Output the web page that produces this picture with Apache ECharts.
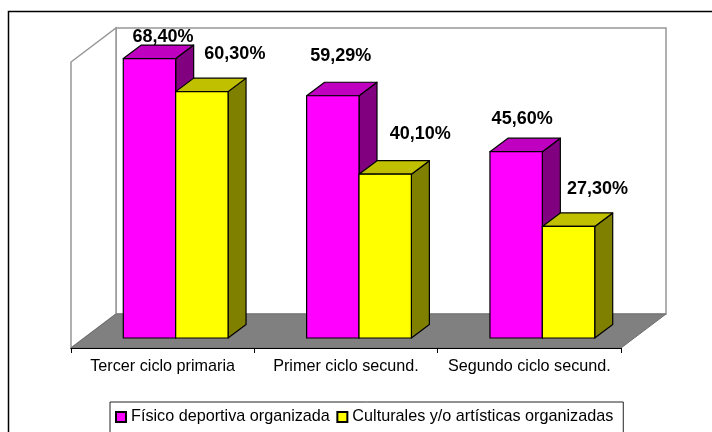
<!DOCTYPE html>
<html>
<head>
<meta charset="utf-8">
<style>
  html, body { margin: 0; padding: 0; background: #fff; }
  #chart { width: 712px; height: 432px; }
</style>
<script src="https://cdn.jsdelivr.net/npm/echarts@6/dist/echarts.min.js"></script>
</head>
<body>
<div id="chart"></div>
<script>
const categories = ["Tercer ciclo primaria", "Primer ciclo secund.", "Segundo ciclo secund."];
const fisico = [68.4, 59.29, 45.6];
const culturales = [60.3, 40.1, 27.3];
const seriesNames = ["Físico deportiva organizada", "Culturales y/o artísticas organizadas"];

// the value labels were dragged by hand in the original, so each has its own nudge
const fisicoNudge = [[13.5, -12.5], [8, -30.5], [6, -24]];
const culturalesNudge = [[33, -29], [35, -31], [29, -28]];

// oblique projection, in pixels: floor depth, and where the bars start and end on it
const FLOOR = [45, -34];
const BAR_FRONT = [13, -10];
const BAR_BACK = [31, -23.5];
const BAR_SHARE = 1 / 3.5;

const shift = (p, d) => [p[0] + d[0], p[1] + d[1]];

const renderBox = (colors, nudges, slot) => (params, api) => {
  const cat = api.value(0);
  const val = api.value(1);
  const band = api.size([1, 0])[0];
  const w = band * BAR_SHARE;
  const base = api.coord([cat, 0]);
  const top = api.coord([cat, val]);
  const x0 = base[0] + (slot - 1) * w;
  const x1 = x0 + w;

  const fBL = shift([x0, base[1]], BAR_FRONT);
  const fBR = shift([x1, base[1]], BAR_FRONT);
  const fTL = shift([x0, top[1]], BAR_FRONT);
  const fTR = shift([x1, top[1]], BAR_FRONT);
  const bTL = shift([x0, top[1]], BAR_BACK);
  const bTR = shift([x1, top[1]], BAR_BACK);
  const bBR = shift([x1, base[1]], BAR_BACK);

  const edge = { stroke: "#000", lineWidth: 1.2, lineJoin: "round" };
  const nudge = nudges[params.dataIndex];
  return {
    type: "group",
    children: [
      { type: "polygon", shape: { points: [fTR, bTR, bBR, fBR] }, style: { fill: colors.side, ...edge } },
      { type: "polygon", shape: { points: [fTL, bTL, bTR, fTR] }, style: { fill: colors.top, ...edge } },
      { type: "polygon", shape: { points: [fBL, fTL, fTR, fBR] }, style: { fill: colors.front, ...edge } },
      {
        type: "text",
        z2: 10,
        style: {
          text: val.toFixed(2).replace(".", ",") + "%",
          x: (fTL[0] + fTR[0]) / 2 + nudge[0],
          y: fTL[1] + nudge[1],
          align: "center",
          verticalAlign: "bottom",
          fill: "#000",
          font: "bold 18px 'Liberation Sans', Arial, sans-serif"
        }
      }
    ]
  };
};

// floor and walls, placed from the axes' own extent
const renderRoom = (params, api) => {
  const half = api.size([1, 0])[0] / 2;
  const first = api.coord([0, 0]);
  const last = api.coord([categories.length - 1, 0]);
  const ceil = api.coord([0, 70])[1];
  const fl = [first[0] - half, first[1]];
  const fr = [last[0] + half, last[1]];
  const lt = [fl[0], ceil];
  const rt = [fr[0], ceil];
  const wall = { stroke: "#969696", lineWidth: 1.5, fill: "#fff" };
  return {
    type: "group",
    children: [
      { type: "polygon", shape: { points: [shift(lt, FLOOR), shift(rt, FLOOR), shift(fr, FLOOR), shift(fl, FLOOR)] }, style: wall },
      { type: "polygon", shape: { points: [lt, shift(lt, FLOOR), shift(fl, FLOOR), fl] }, style: wall },
      { type: "polygon", shape: { points: [fl, shift(fl, FLOOR), shift(fr, FLOOR), fr] }, style: { fill: "#808080", stroke: "#6e6e6e", lineWidth: 1 } }
    ]
  };
};

const chart = echarts.init(document.getElementById("chart"), null, { renderer: "canvas" });
chart.setOption({
  animation: false,
  backgroundColor: "#fff",
  graphic: [{
    type: "rect",
    silent: true,
    z: -1,
    shape: { x: 8.5, y: 11.5, width: 720, height: 440 },
    style: { fill: "#fff", stroke: "#000", lineWidth: 1.5 }
  }],
  legend: {
    left: 110,
    top: 402,
    padding: [7, 10, 20, 5],
    itemWidth: 10,
    itemHeight: 10,
    itemGap: 6.5,
    icon: "rect",
    borderColor: "#222",
    borderWidth: 1,
    backgroundColor: "#fff",
    textStyle: { fontFamily: "'Liberation Sans', Arial, sans-serif", fontSize: 16.2, color: "#000" },
    data: seriesNames
  },
  grid: { left: 71, width: 550, top: 62, height: 286 },
  xAxis: {
    type: "category",
    data: categories,
    z: 5,
    axisLine: { lineStyle: { color: "#000", width: 1.2 } },
    axisTick: { show: true, length: 5, lineStyle: { color: "#000" } },
    axisLabel: { fontFamily: "'Liberation Sans', Arial, sans-serif", fontSize: 16.2, color: "#000", margin: 11, interval: 0 },
    splitLine: { show: false }
  },
  yAxis: { type: "value", min: 0, max: 70, interval: 10, show: false, splitLine: { show: false } },
  series: [
    {
      type: "custom",
      silent: true,
      renderItem: renderRoom,
      data: [[0, 0]],
      z: 1,
      clip: false
    },
    {
      type: "custom",
      name: seriesNames[0],
      renderItem: renderBox({ front: "#ff00ff", top: "#c000c0", side: "#800080" }, fisicoNudge, 0),
      data: fisico.map((v, i) => [i, v]),
      encode: { x: 0, y: 1 },
      itemStyle: { color: "#ff00ff", borderColor: "#000", borderWidth: 1 },
      z: 2,
      clip: false
    },
    {
      type: "custom",
      name: seriesNames[1],
      renderItem: renderBox({ front: "#ffff00", top: "#c0c000", side: "#808000" }, culturalesNudge, 1),
      data: culturales.map((v, i) => [i, v]),
      encode: { x: 0, y: 1 },
      itemStyle: { color: "#ffff00", borderColor: "#000", borderWidth: 1 },
      z: 3,
      clip: false
    }
  ]
});
</script>
</body>
</html>
